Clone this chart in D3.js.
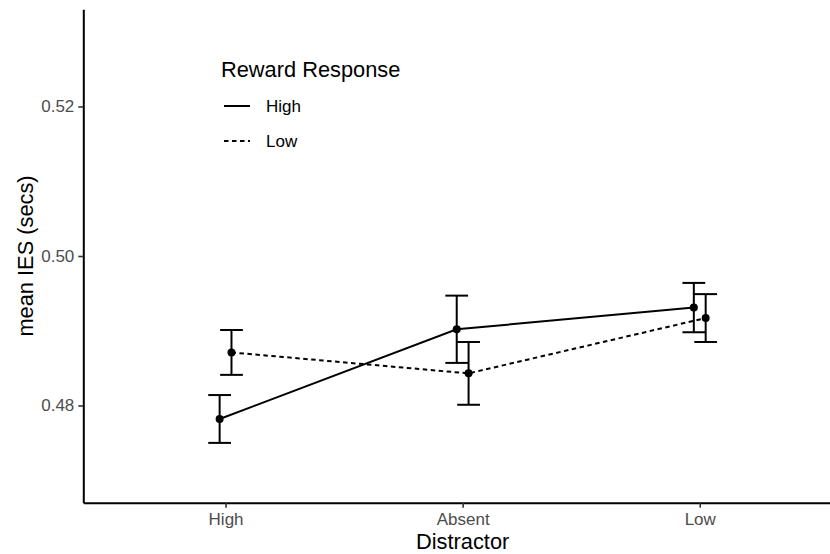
<!DOCTYPE html>
<html>
<head>
<meta charset="utf-8">
<script src="https://cdn.jsdelivr.net/npm/d3@7"></script>
<style>
  html, body { margin: 0; padding: 0; background: #fff; }
  svg { display: block; font-family: Arial, "Liberation Sans", sans-serif; }
</style>
</head>
<body>
<svg id="chart" width="830" height="554"></svg>
<script>
// Distractor conditions on the x axis
const distractors = ["High", "Absent", "Low"];

// Reward response groups (legend entries)
const rewardGroups = ["High", "Low"];

// Mean IES (secs) per distractor, one array per reward group
const meanHigh = [0.4782, 0.4902, 0.4931];
const meanLow  = [0.4871, 0.4843, 0.4917];

// Standard errors for the error bars
const seHigh = [0.0032, 0.0045, 0.0033];
const seLow  = [0.0030, 0.0042, 0.0032];

// Y axis ticks
const yTicks = [0.48, 0.50, 0.52];

const series = [
  { name: rewardGroups[0], mean: meanHigh, se: seHigh, dash: null, side: -1 },
  { name: rewardGroups[1], mean: meanLow,  se: seLow,  dash: "4.5,3.5", side: 1 }
];

const svg = d3.select("#chart");

const panel = { left: 83.3, right: 842, top: 9.3, bottom: 502.7 };

const x = d3.scalePoint()
  .domain(distractors)
  .range([panel.left, panel.right])
  .padding(0.6);

const y = d3.scaleLinear()
  .domain([0.467, 0.533])
  .range([panel.bottom, panel.top]);

const dodge = x.step() * 0.025;
const capHalf = x.step() * 0.048;
const tickColor = "#4D4D4D";
const titleSize = 21.8;
const labelSize = 17;

// Axes
const xAxis = svg.append("g")
  .attr("transform", `translate(0,${panel.bottom})`)
  .call(d3.axisBottom(x).tickSize(5).tickPadding(5).tickSizeOuter(0));
const yAxis = svg.append("g")
  .attr("transform", `translate(${panel.left},0)`)
  .call(d3.axisLeft(y).tickValues(yTicks).tickFormat(d3.format(".2f")).tickSize(5).tickPadding(4).tickSizeOuter(0));

[xAxis, yAxis].forEach(g => {
  g.select(".domain").attr("stroke", "#000").attr("stroke-width", 2);
  g.selectAll(".tick line").attr("stroke", "#333").attr("stroke-width", 1.6);
  g.selectAll(".tick text")
    .attr("fill", tickColor)
    .attr("font-size", labelSize)
    .attr("font-family", "Arial, 'Liberation Sans', sans-serif");
});
xAxis.selectAll(".tick text").attr("dy", "0.71em");

// Axis titles
svg.append("text")
  .attr("x", (panel.left + panel.right) / 2)
  .attr("y", 549)
  .attr("text-anchor", "middle")
  .attr("font-size", titleSize)
  .attr("fill", "#000")
  .text("Distractor");

svg.append("text")
  .attr("transform", `translate(33,${(panel.top + panel.bottom) / 2}) rotate(-90)`)
  .attr("text-anchor", "middle")
  .attr("font-size", titleSize)
  .attr("fill", "#000")
  .text("mean IES (secs)");

// Lines
const line = d3.line()
  .x(d => d.x)
  .y(d => d.y);

series.forEach(s => {
  const pts = distractors.map((c, i) => ({ x: x(c) + s.side * dodge, y: y(s.mean[i]) }));
  svg.append("path")
    .attr("d", line(pts))
    .attr("fill", "none")
    .attr("stroke", "#000")
    .attr("stroke-width", 2)
    .attr("stroke-dasharray", s.dash);
});

// Error bars
series.forEach(s => {
  const g = svg.append("g").attr("stroke", "#000").attr("stroke-width", 2);
  distractors.forEach((c, i) => {
    const cx = x(c) + s.side * dodge;
    const lo = y(s.mean[i] - s.se[i]);
    const hi = y(s.mean[i] + s.se[i]);
    g.append("line").attr("x1", cx).attr("x2", cx).attr("y1", lo).attr("y2", hi);
    g.append("line").attr("x1", cx - capHalf).attr("x2", cx + capHalf).attr("y1", lo).attr("y2", lo);
    g.append("line").attr("x1", cx - capHalf).attr("x2", cx + capHalf).attr("y1", hi).attr("y2", hi);
  });
});

// Points
series.forEach(s => {
  svg.append("g").selectAll("circle")
    .data(distractors)
    .join("circle")
    .attr("cx", (c) => x(c) + s.side * dodge)
    .attr("cy", (c, i) => y(s.mean[i]))
    .attr("r", 4)
    .attr("fill", "#000");
});

// Legend
const legend = svg.append("g").attr("transform", "translate(221,0)");
legend.append("text")
  .attr("x", 0)
  .attr("y", 77)
  .attr("font-size", titleSize)
  .attr("fill", "#000")
  .text("Reward Response");

series.forEach((s, i) => {
  const ly = 106 + i * 35;
  legend.append("line")
    .attr("x1", 3).attr("x2", 29)
    .attr("y1", ly).attr("y2", ly)
    .attr("stroke", "#000")
    .attr("stroke-width", 2)
    .attr("stroke-dasharray", s.dash);
  legend.append("text")
    .attr("x", 45)
    .attr("y", ly)
    .attr("dy", "0.36em")
    .attr("font-size", labelSize)
    .attr("fill", "#000")
    .text(s.name);
});
</script>
</body>
</html>
